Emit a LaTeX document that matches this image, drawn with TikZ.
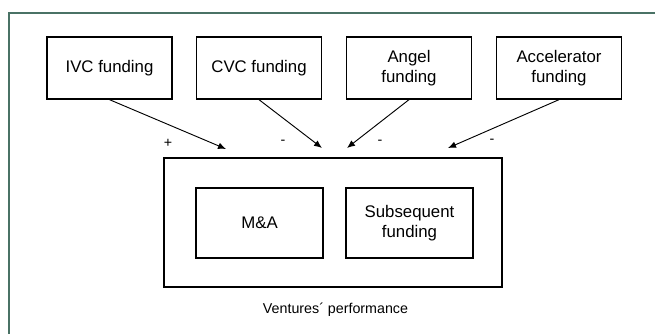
\documentclass[tikz,border=0pt]{standalone}
\usepackage{fontspec}
\setmainfont{Liberation Sans}
\usepackage{xcolor}
\usepackage{tikz}
\usetikzlibrary{arrows.meta}
\usetikzlibrary{positioning}
\definecolor{framegreen}{HTML}{4A7265}
\tikzset{>={Latex[length=6pt,width=5pt]}}
\tikzstyle{fund} = [draw=black, line width=1pt, minimum width=93.75pt, minimum height=46.5pt, inner sep=0, align=center, font=\fontsize{12.6}{15}\selectfont]
\tikzstyle{perf} = [fund, minimum width=95.25pt, minimum height=52.5pt]
\tikzstyle{sign} = [draw=none, inner sep=0, font=\fontsize{10.7}{12}\selectfont]

\begin{document}
\begin{tikzpicture}[x=0.75pt, y=-0.75pt]
\useasboundingbox (0,0) rectangle (655,334);
%\draw [draw=none, fill=white] (0,0) rectangle (655,334);
\draw [draw=framegreen, line width=0.8pt] (9,340) -- (9,13) -- (660,13);
\node [fund] (ivc) at (109.5, 68) {IVC funding};
\node [fund] (cvc) at (259, 68) {CVC funding};
\node [fund] (angel) at (409, 68) {Angel\\funding};
\node [fund] (acc) at (559, 68) {Accelerator\\funding};
\node [draw=black, line width=1.2pt, minimum width=253.5pt, minimum height=96.75pt] (vp) at (333, 222.5) {};
\node [perf] (ma) at (259.5, 223) {M\&A};
\node [perf] (sf) at (409.5, 223) {Subsequent\\funding};
\node [draw=none, anchor=base, inner sep=0, font=\fontsize{10.7}{12}\selectfont] (vplabel) at (335.5, 313) {Ventures´ performance};
\coordinate (ivcend) at (226, 149);
\coordinate (cvcend) at (322, 148);
\coordinate (angelend) at (347, 148);
\coordinate (accend) at (448, 148);
\draw [->, draw=black, line width=0.7pt] (ivc.south) to (ivcend);
\draw [->, draw=black, line width=0.7pt] (cvc.south) to (cvcend);
\draw [->, draw=black, line width=0.7pt] (angel.south) to (angelend);
\draw [->, draw=black, line width=0.7pt] (acc.south) to (accend);
\node [sign] (ivcsign) at (168, 143) {+};
\node [sign] (cvcsign) at (283, 142) {-};
\node [sign] (angelsign) at (380, 142) {-};
\node [sign] (accsign) at (492, 141) {-};
\end{tikzpicture}
\end{document}
